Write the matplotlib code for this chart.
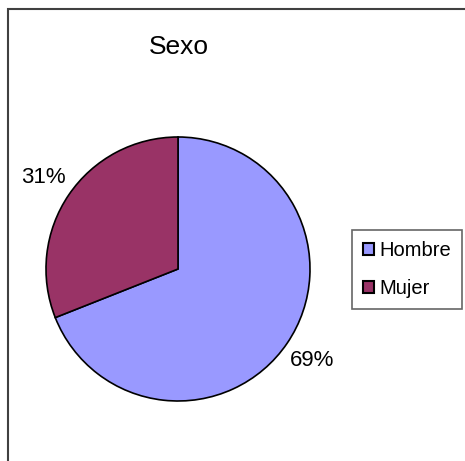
import matplotlib
matplotlib.use("Agg")
import matplotlib.pyplot as plt
from matplotlib.patches import Rectangle

# datos
categorias = ["Hombre", "Mujer"]
valores = [69, 31]
colores = ["#9999FF", "#993366"]
titulo = "Sexo"

plt.rcParams['font.family'] = ['Liberation Sans', 'DejaVu Sans']

W, H = 465, 461
fig = plt.figure(figsize=(W / 100, H / 100), dpi=100)
ax = fig.add_axes([0, 0, 1, 1])
ax.set_xlim(0, W)
ax.set_ylim(0, H)
ax.set_aspect('equal')
ax.axis('off')

# marco del grafico (solo se ven borde superior e izquierdo)
ax.add_patch(Rectangle((8, -20), 480, H - 9 + 20, fill=False,
                       edgecolor='#404040', linewidth=1.5))

# pastel
wedges, textos, pcts = ax.pie(
    valores, colors=colores, startangle=90, counterclock=False,
    center=(178, H - 269), radius=132,
    autopct='%1.0f%%', pctdistance=1.23,
    wedgeprops=dict(edgecolor='black', linewidth=1.2),
    textprops=dict(fontsize=16, color='black'))
ax.set_xlim(0, W)
ax.set_ylim(0, H)

ax.text(179, H - 47, titulo, ha='center', va='center', fontsize=19)

leg = ax.legend(wedges, categorias, loc='upper left',
                bbox_to_anchor=(352 / W, 1 - 230 / H), fontsize=14.5,
                frameon=True, fancybox=False, edgecolor='#404040',
                handlelength=0.55, handleheight=0.55, handletextpad=0.25,
                labelspacing=0.95, borderpad=0.55, borderaxespad=0)
leg.get_frame().set_linewidth(1.2)
for h in leg.legend_handles:
    h.set_edgecolor('black')
    h.set_linewidth(1.5)

fig.savefig("out.png", dpi=100)
